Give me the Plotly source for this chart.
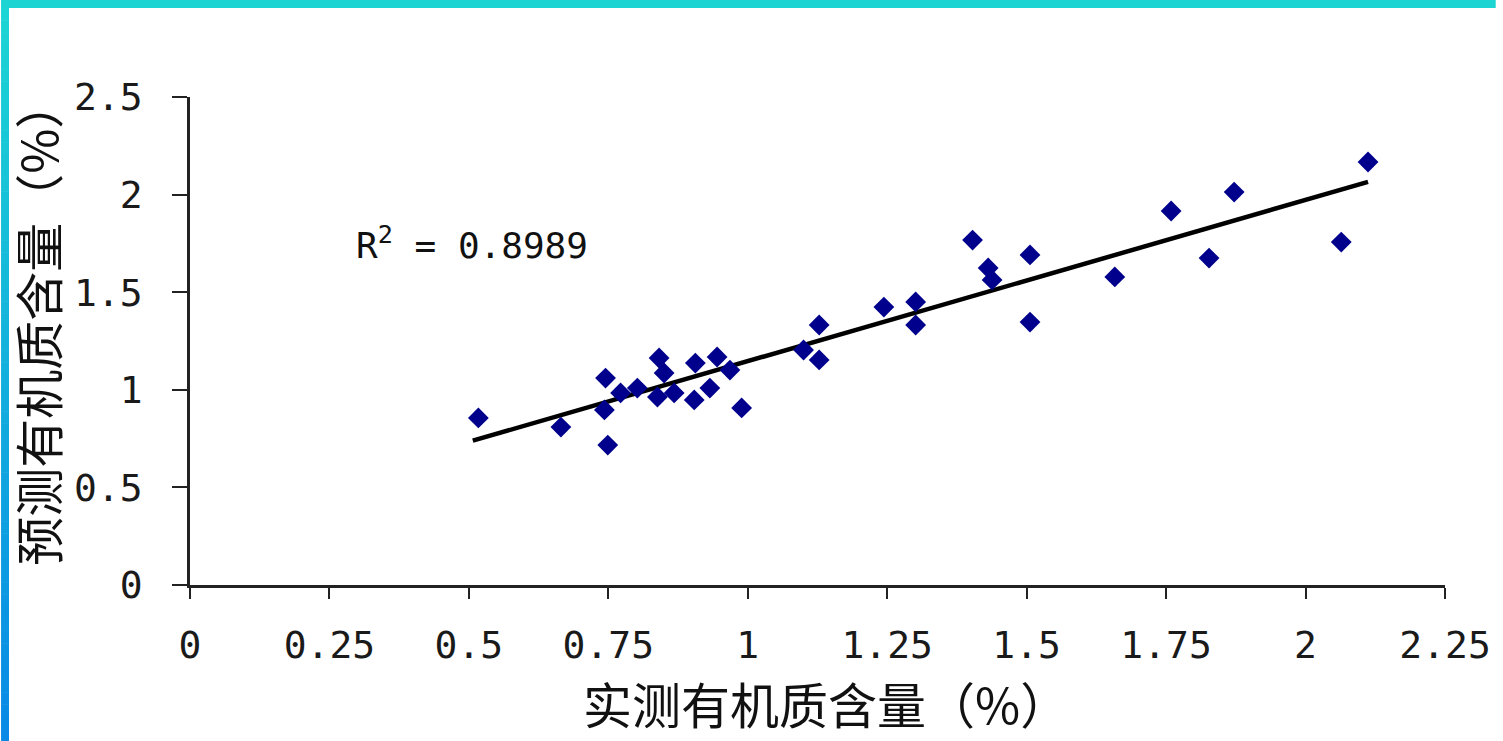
import numpy as np
import plotly.graph_objects as go

# Measured vs. predicted soil organic matter content (%)
measured = [0.517, 0.665, 0.745, 0.749, 0.743, 0.772, 0.802, 0.841, 0.850, 0.838,
            0.868, 0.906, 0.945, 0.904, 0.932, 0.968, 0.989, 1.100, 1.128, 1.128,
            1.244, 1.301, 1.301, 1.403, 1.431, 1.438, 1.506, 1.506, 1.658, 1.759,
            1.827, 1.872, 2.064, 2.112]
predicted = [0.856, 0.809, 1.060, 0.717, 0.897, 0.984, 1.009, 1.163, 1.086, 0.963,
             0.984, 1.137, 1.168, 0.948, 1.009, 1.101, 0.907, 1.204, 1.332, 1.153,
             1.424, 1.450, 1.332, 1.767, 1.624, 1.563, 1.691, 1.347, 1.578, 1.916,
             1.675, 2.013, 1.757, 2.167]
r2_text = "0.8989"

x_ticks = [0, 0.25, 0.5, 0.75, 1, 1.25, 1.5, 1.75, 2, 2.25]
x_tick_text = ["0", "0.25", "0.5", "0.75", "1", "1.25", "1.5", "1.75", "2", "2.25"]
y_ticks = [0, 0.5, 1, 1.5, 2, 2.5]
y_tick_text = ["0", "0.5", "1", "1.5", "2", "2.5"]
x_title = "实测有机质含量（%）"
y_title = "预测有机质含量（%）"

# Linear trend line fitted to the points
slope, intercept = np.polyfit(measured, predicted, 1)
fit_x = [min(measured) - 0.01, max(measured)]
fit_y = [slope * v + intercept for v in fit_x]

W, H = 1503, 741
ML, MR, MT, MB = 190, 51, 97, 156
PW, PH = W - ML - MR, H - MT - MB


def px_x(p):
    return (p - ML) / PW


def px_y(p):
    return (H - MB - p) / PH


fig = go.Figure()
fig.add_trace(go.Scatter(
    x=fit_x, y=fit_y, mode="lines",
    line=dict(color="#000000", width=4.5),
    hoverinfo="skip", showlegend=False,
))
fig.add_trace(go.Scatter(
    x=measured, y=predicted, mode="markers",
    marker=dict(symbol="diamond", size=16, color="#00008c",
                line=dict(width=0)),
    showlegend=False,
))

tick_font = dict(family="DejaVu Sans Mono", size=38, color="#1a1a1a")
title_font = dict(family="Noto Sans CJK SC", size=49, color="#111111")

fig.update_xaxes(
    range=[0, 2.25], tickvals=x_ticks, ticktext=x_tick_text,
    showgrid=False, zeroline=False, showline=True,
    linecolor="#222222", linewidth=2.5,
    ticks="outside", ticklen=11, tickwidth=2, tickcolor="#222222",
    tickfont=tick_font, ticklabelstandoff=14,
)
fig.update_yaxes(
    range=[0, 2.5], tickvals=y_ticks, ticktext=y_tick_text,
    showgrid=False, zeroline=False, showline=True,
    linecolor="#222222", linewidth=2.5,
    ticks="outside", ticklen=15, tickwidth=2, tickcolor="#222222",
    tickfont=tick_font, ticklabelstandoff=22,
)

# Axis titles
fig.add_annotation(
    x=px_x(830), y=px_y(702), xref="paper", yref="paper",
    xanchor="center", yanchor="middle", showarrow=False,
    text=x_title, font=title_font,
)
fig.add_annotation(
    x=px_x(35), y=px_y(323), xref="paper", yref="paper",
    xanchor="center", yanchor="middle", showarrow=False,
    text=y_title, font=title_font, textangle=-90,
)

fig.add_annotation(
    x=px_x(355), y=px_y(243), xref="paper", yref="paper",
    xanchor="left", yanchor="middle", showarrow=False,
    text="R<sup>2</sup> = " + r2_text,
    font=dict(family="DejaVu Sans Mono", size=36, color="#111111"),
)

# Frame: cyan strip on top, cyan-to-blue gradient strip on the left
shapes = [dict(type="rect", xref="paper", yref="paper",
               x0=px_x(0), x1=px_x(W), y0=px_y(8), y1=px_y(0),
               fillcolor="#1cd5d3", line=dict(width=0), layer="above")]
c_top = np.array([29, 213, 212])
c_bot = np.array([8, 138, 230])
n = 60
for i in range(n):
    t = i / (n - 1)
    c = (c_top * (1 - t) + c_bot * t).astype(int)
    shapes.append(dict(
        type="rect", xref="paper", yref="paper",
        x0=px_x(0), x1=px_x(8),
        y0=px_y(8 + (H - 8) * (i + 1) / n + 0.5), y1=px_y(8 + (H - 8) * i / n),
        fillcolor=f"rgb({c[0]},{c[1]},{c[2]})", line=dict(width=0), layer="above"))
fig.update_layout(shapes=shapes)

fig.update_layout(
    width=W, height=H,
    margin=dict(l=ML, r=MR, t=MT, b=MB, pad=0),
    paper_bgcolor="#ffffff", plot_bgcolor="#ffffff",
    showlegend=False,
)

fig.write_html("out.html")
